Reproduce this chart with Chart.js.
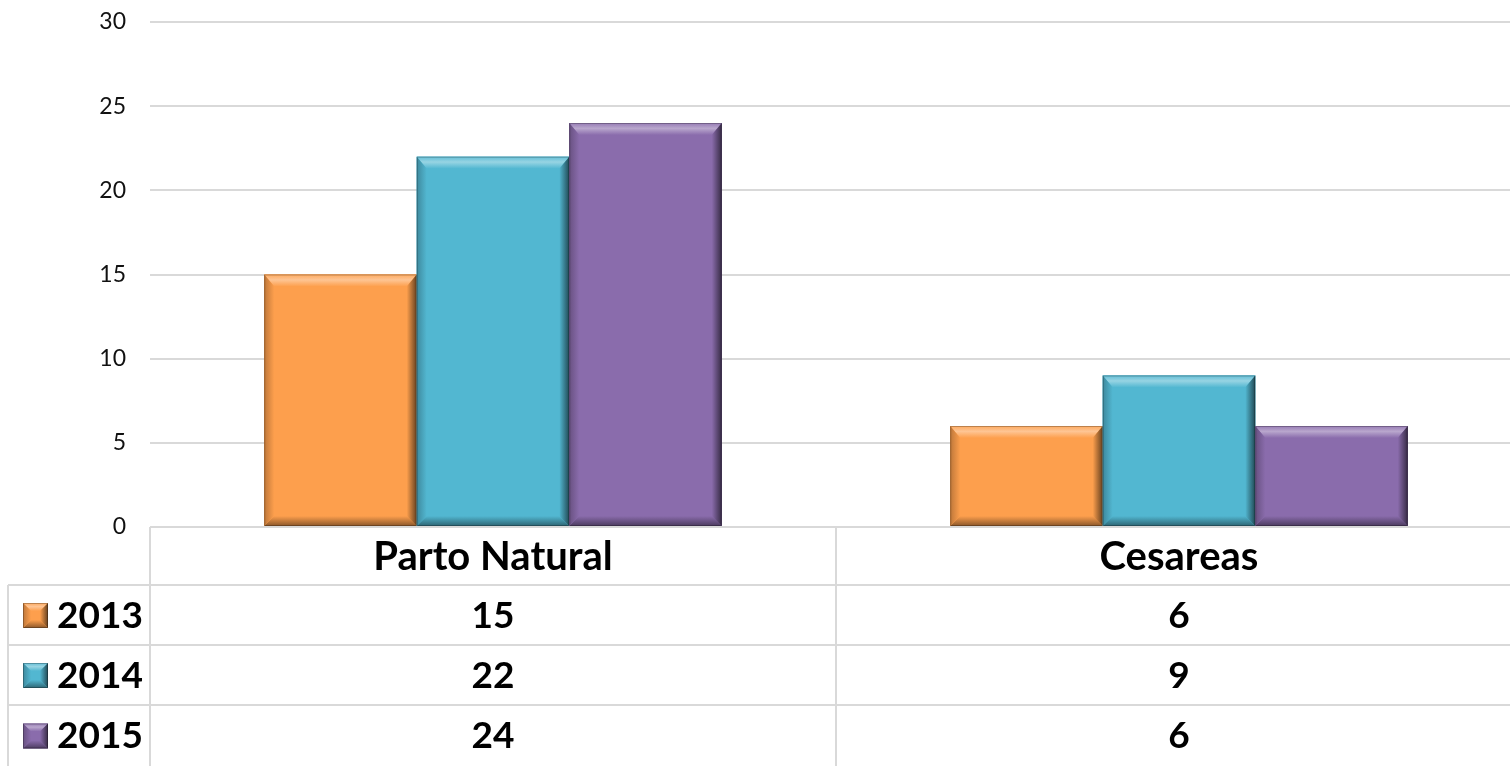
<!DOCTYPE html>
<html>
<head>
<meta charset="utf-8">
<script src="https://cdn.jsdelivr.net/npm/chart.js@4.4.1/dist/chart.umd.min.js"></script>
<style>
  html, body { margin: 0; padding: 0; background: #fff; overflow: hidden; }
  #wrap { position: relative; width: 1522px; height: 766px; }
</style>
</head>
<body>
<div id="wrap"><canvas id="c"></canvas></div>
<script>
/* Daten */
const categories = ["Parto Natural", "Cesareas"];
const years = ["2013", "2014", "2015"];
const v2013 = [15, 6];
const v2014 = [22, 9];
const v2015 = [24, 6];
const yMax = 30, yStep = 5;

const COLORS = ["#FD9F4D", "#52B7D1", "#8A6CAC"];
const GRID = "#d9d9d9";
const FONT = "Lato, 'Open Sans', sans-serif";

function mix(hex, target, amt) {
  const a = [1, 3, 5].map((i) => parseInt(hex.slice(i, i + 2), 16));
  const t = target === "w" ? 255 : 0;
  const c = a.map((v) => Math.round(v + (t - v) * amt));
  return `rgb(${c[0]},${c[1]},${c[2]})`;
}

function poly(ctx, pts, fill) {
  ctx.beginPath();
  ctx.moveTo(pts[0][0], pts[0][1]);
  for (let i = 1; i < pts.length; i++) ctx.lineTo(pts[i][0], pts[i][1]);
  ctx.closePath();
  ctx.fillStyle = fill;
  ctx.fill();
}

/* Abgeschrägte Kanten wie in Excel */
function bevel(ctx, l, t, r, b, color, s) {
  const st = Math.min(s.top, (b - t) / 2), ss = Math.min(s.side, (r - l) / 2), sb = Math.min(s.bottom, (b - t) / 2);
  ctx.fillStyle = color;
  ctx.fillRect(l, t, r - l, b - t);
  const gTop = ctx.createLinearGradient(0, t, 0, t + st);
  gTop.addColorStop(0, mix(color, "w", 0.1));
  gTop.addColorStop(0.45, mix(color, "w", 0.4));
  gTop.addColorStop(1, color);
  poly(ctx, [[l, t], [r, t], [r - ss, t + st], [l + ss, t + st]], gTop);
  const gBot = ctx.createLinearGradient(0, b - sb, 0, b);
  gBot.addColorStop(0, color);
  gBot.addColorStop(1, mix(color, "b", 0.45));
  poly(ctx, [[l, b], [r, b], [r - ss, b - sb], [l + ss, b - sb]], gBot);
  const gL = ctx.createLinearGradient(l, 0, l + ss, 0);
  gL.addColorStop(0, mix(color, "b", 0.25));
  gL.addColorStop(1, color);
  poly(ctx, [[l, t], [l + ss, t + st], [l + ss, b - sb], [l, b]], gL);
  const gR = ctx.createLinearGradient(r - ss, 0, r, 0);
  gR.addColorStop(0, color);
  gR.addColorStop(1, mix(color, "b", 0.6));
  poly(ctx, [[r, t], [r - ss, t + st], [r - ss, b - sb], [r, b]], gR);
  ctx.strokeStyle = "rgba(0,0,0,0.25)";
  ctx.lineWidth = 1;
  ctx.strokeRect(l + 0.5, t + 0.5, r - l - 1, b - t - 1);
}

const bevelBars = {
  id: "bevelBars",
  afterDatasetsDraw(chart) {
    const ctx = chart.ctx;
    ctx.save();
    chart.data.datasets.forEach((ds, i) => {
      chart.getDatasetMeta(i).data.forEach((el) => {
        const { x, y, base, width } = el.getProps(["x", "y", "base", "width"], true);
        bevel(ctx, x - width / 2, y, x + width / 2, base, ds.backgroundColor, { top: 12, side: 10, bottom: 10 });
      });
    });
    ctx.restore();
  },
};

/* Datentabelle unter dem Diagramm */
const dataTable = {
  id: "dataTable",
  afterDraw(chart) {
    const ctx = chart.ctx;
    const area = chart.chartArea;
    const xs = chart.scales.x;
    const rowH = [58, 60, 60, 61];
    const tableLeft = 8;
    const ys = [area.bottom];
    rowH.forEach((h) => ys.push(ys[ys.length - 1] + h));
    ctx.save();
    ctx.strokeStyle = GRID;
    ctx.lineWidth = 2;
    // horizontale Linien
    ctx.beginPath();
    for (let i = 1; i < ys.length - 1; i++) {
      ctx.moveTo(tableLeft, ys[i]);
      ctx.lineTo(area.right, ys[i]);
    }
    // vertikale Linien
    ctx.moveTo(area.left, area.bottom);
    ctx.lineTo(area.left, ys[ys.length - 1]);
    ctx.moveTo(tableLeft, ys[1]);
    ctx.lineTo(tableLeft, ys[ys.length - 1]);
    for (let c = 1; c < categories.length; c++) {
      const bx = (xs.getPixelForValue(c - 1) + xs.getPixelForValue(c)) / 2;
      ctx.moveTo(bx, area.bottom);
      ctx.lineTo(bx, ys[ys.length - 1]);
    }
    ctx.stroke();

    ctx.fillStyle = "#000";
    ctx.font = `bold 40px ${FONT}`;
    ctx.textAlign = "center";
    ctx.textBaseline = "middle";
    categories.forEach((c, i) => ctx.fillText(c, xs.getPixelForValue(i), (ys[0] + ys[1]) / 2 + 1));
    ctx.font = `bold 37px ${FONT}`;
    chart.data.datasets.forEach((ds, r) => {
      const cy = (ys[r + 1] + ys[r + 2]) / 2 + 1;
      ds.data.forEach((v, i) => {
        ctx.fillStyle = "#000";
        ctx.textAlign = "center";
        ctx.fillText(String(v), xs.getPixelForValue(i), cy);
      });
      // Legendenschlüssel
      bevel(ctx, 23, cy - 13, 48, cy + 12, ds.backgroundColor, { top: 8, side: 8, bottom: 8 });
      ctx.fillStyle = "#000";
      ctx.textAlign = "left";
      ctx.fillText(ds.label, 57, cy);
    });
    ctx.restore();
  },
};

new Chart(document.getElementById("c"), {
  type: "bar",
  data: {
    labels: categories,
    datasets: [
      { label: years[0], data: v2013, backgroundColor: COLORS[0] },
      { label: years[1], data: v2014, backgroundColor: COLORS[1] },
      { label: years[2], data: v2015, backgroundColor: COLORS[2] },
    ],
  },
  options: {
    responsive: true,
    maintainAspectRatio: false,
    animation: false,
    layout: { autoPadding: false, padding: { top: 22, right: 0, bottom: 239, left: 0 } },
    plugins: { legend: { display: false }, tooltip: { enabled: false } },
    datasets: { bar: { categoryPercentage: 0.667, barPercentage: 1.0, borderWidth: 0 } },
    scales: {
      x: { display: false, grid: { display: false } },
      y: {
        min: 0,
        max: yMax,
        afterFit(scale) { scale.width = 150; scale.paddingTop = 0; scale.paddingBottom = 0; },
        grid: { color: GRID, lineWidth: 2, drawTicks: false },
        border: { display: false },
        ticks: { stepSize: yStep, padding: 24, color: "#111", font: { family: FONT, size: 23 } },
      },
    },
  },
  plugins: [bevelBars, dataTable],
});
</script>
</body>
</html>
